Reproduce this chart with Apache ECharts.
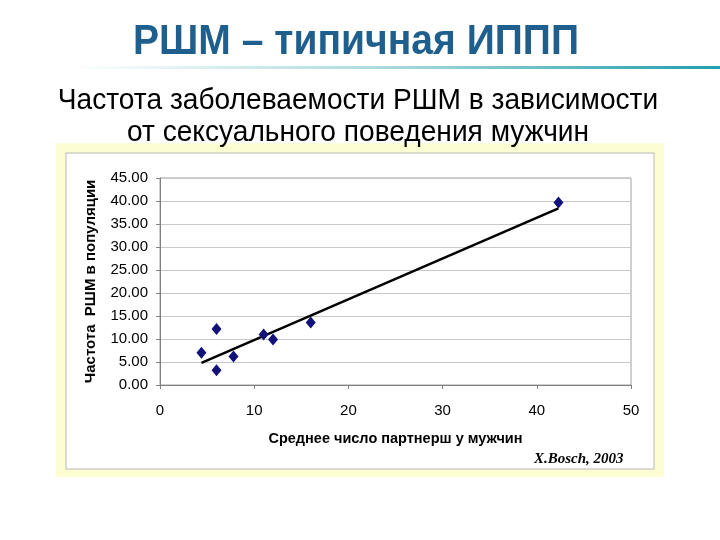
<!DOCTYPE html>
<html>
<head>
<meta charset="utf-8">
<script src="https://cdn.jsdelivr.net/npm/echarts@6/dist/echarts.min.js"></script>
<style>
  html, body { margin: 0; padding: 0; background: #fff; }
  #chart { width: 720px; height: 540px; }
</style>
</head>
<body>
<div id="chart"></div>
<script>
// avg number of partners vs HPV rate
const partners = [4.4, 6.0, 6.0, 7.8, 11.0, 12.0, 16.0, 42.3];
const hpvRate = [7.0, 12.2, 3.2, 6.2, 11.0, 9.9, 13.6, 39.7];
// trend line endpoints
const trendX = [4.4, 42.3];
const trendY = [4.8, 38.4];

const chart = echarts.init(document.getElementById("chart"));
const font = "Liberation Sans, Arial, sans-serif";

chart.setOption({
  backgroundColor: "#fff",
  animation: false,
  graphic: [
    {
      type: "text", x: 356, y: 42, scaleX: 0.93,
      style: {
        text: "РШМ – типичная ИППП",
        font: "bold 42px 'Liberation Sans', Arial, sans-serif",
        fill: "#1e5f8e", align: "center", verticalAlign: "middle"
      }
    },
    {
      type: "text", x: 358, y: 101, scaleX: 0.97,
      style: {
        text: "Частота заболеваемости РШМ в зависимости",
        font: "29px 'Liberation Sans', Arial, sans-serif",
        fill: "#000", align: "center", verticalAlign: "middle"
      }
    },
    {
      type: "text", x: 358, y: 133, scaleX: 0.97,
      style: {
        text: "от сексуального поведения мужчин",
        font: "29px 'Liberation Sans', Arial, sans-serif",
        fill: "#000", align: "center", verticalAlign: "middle"
      }
    },
    {
      type: "rect", z: -2,
      shape: { x: 70, y: 66, width: 650, height: 3 },
      style: {
        fill: new echarts.graphic.LinearGradient(0, 0, 1, 0, [
          { offset: 0, color: "#ffffff" },
          { offset: 0.5, color: "#a8d8dc" },
          { offset: 1, color: "#1f9fae" }
        ])
      }
    },
    {
      type: "rect", z: -2,
      shape: { x: 56, y: 143, width: 608, height: 334 },
      style: { fill: "#fdfdd4" }
    },
    {
      type: "rect", z: -1,
      shape: { x: 66, y: 153, width: 588, height: 316 },
      style: { fill: "#fff", stroke: "#b8b8b8", lineWidth: 1 }
    },
    {
      type: "text", z: 5,
      left: 534, top: 452,
      style: {
        text: "X.Bosch, 2003",
        font: "italic bold 15px 'Liberation Serif', 'Times New Roman', serif",
        fill: "#000"
      }
    }
  ],
  grid: {
    left: 160, right: 89, top: 178, bottom: 155,
    show: true, borderColor: "#a0a0a0", borderWidth: 1, backgroundColor: "#fff"
  },
  xAxis: {
    type: "value", min: 0, max: 50, interval: 10,
    name: "Среднее число партнерш у мужчин",
    nameLocation: "middle", nameGap: 46,
    nameTextStyle: { fontFamily: font, fontSize: 14.5, fontWeight: "bold", color: "#000" },
    axisLine: { show: true, lineStyle: { color: "#808080" } },
    axisTick: { show: true, length: 4, lineStyle: { color: "#808080" } },
    axisLabel: { fontFamily: font, fontSize: 15, color: "#000", margin: 18 },
    splitLine: { show: false }
  },
  yAxis: {
    type: "value", min: 0, max: 45, interval: 5,
    name: "Частота  РШМ в популяции",
    nameLocation: "middle", nameGap: 62, nameRotate: 90,
    nameTextStyle: { fontFamily: font, fontSize: 15, fontWeight: "bold", color: "#000" },
    axisLine: { show: true, lineStyle: { color: "#808080" } },
    axisTick: { show: true, length: 4, lineStyle: { color: "#808080" } },
    axisLabel: {
      fontFamily: font, fontSize: 15, color: "#000", margin: 12,
      formatter: (v) => v.toFixed(2)
    },
    splitLine: { show: true, lineStyle: { color: "#c8c8c8", width: 1 } }
  },
  series: [
    {
      type: "line",
      data: trendX.map((x, i) => [x, trendY[i]]),
      symbol: "none",
      lineStyle: { color: "#000", width: 2.5 },
      z: 2
    },
    {
      type: "scatter",
      data: partners.map((x, i) => [x, hpvRate[i]]),
      symbol: "diamond",
      symbolSize: [10, 12],
      itemStyle: { color: "#12127a", opacity: 1 },
      z: 3
    }
  ]
});
</script>
</body>
</html>
